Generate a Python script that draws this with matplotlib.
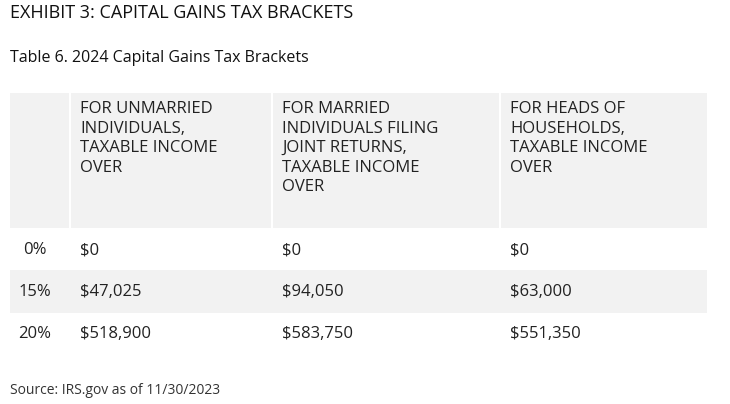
import matplotlib.pyplot as plt
from matplotlib.patches import Rectangle

title = "EXHIBIT 3: CAPITAL GAINS TAX BRACKETS"
subtitle = "Table 6. 2024 Capital Gains Tax Brackets"
headers = ["", "FOR UNMARRIED\nINDIVIDUALS,\nTAXABLE INCOME\nOVER",
           "FOR MARRIED\nINDIVIDUALS FILING\nJOINT RETURNS,\nTAXABLE INCOME\nOVER",
           "FOR HEADS OF\nHOUSEHOLDS,\nTAXABLE INCOME\nOVER"]
rates = ["0%", "15%", "20%"]
unmarried = ["$0", "$47,025", "$518,900"]
married = ["$0", "$94,050", "$583,750"]
heads = ["$0", "$63,000", "$551,350"]
source = "Source: IRS.gov as of 11/30/2023"

plt.rcParams['font.family'] = ['Open Sans', 'DejaVu Sans']
fig = plt.figure(figsize=(7.3, 4.04), dpi=100)
ax = fig.add_axes([0, 0, 1, 1])
ax.set_xlim(0, 730)
ax.set_ylim(404, 0)
ax.axis('off')

gray = '#f2f2f2'
col_x = [10, 70, 272, 500, 707]
ax.add_patch(Rectangle((10, 93), 697, 135, color=gray, lw=0))
ax.add_patch(Rectangle((10, 270), 697, 43, color=gray, lw=0))
for x in col_x[1:4]:
    ax.plot([x, x], [93, 228], color='white', lw=1.5)

ax.text(10, 13, title, fontsize=13, va='center', color='#111111')
ax.text(10, 58, subtitle, fontsize=11.5, va='center', color='#111111')
for i, h in enumerate(headers):
    ax.text(col_x[i] + 10, 101, h, fontsize=12, va='top', color='#222222', linespacing=1.3)

row_y = [250, 292, 334]
for j in range(3):
    for i, v in enumerate([rates[j], unmarried[j], married[j], heads[j]]):
        if i == 0:
            ax.text(35, row_y[j], v, fontsize=12, va='center', ha='center', color='#222222')
        else:
            ax.text(col_x[i] + 10, row_y[j], v, fontsize=12, va='center', color='#222222')

ax.text(10, 391, source, fontsize=10, va='center', color='#333333')
fig.savefig('out.png', dpi=100)
